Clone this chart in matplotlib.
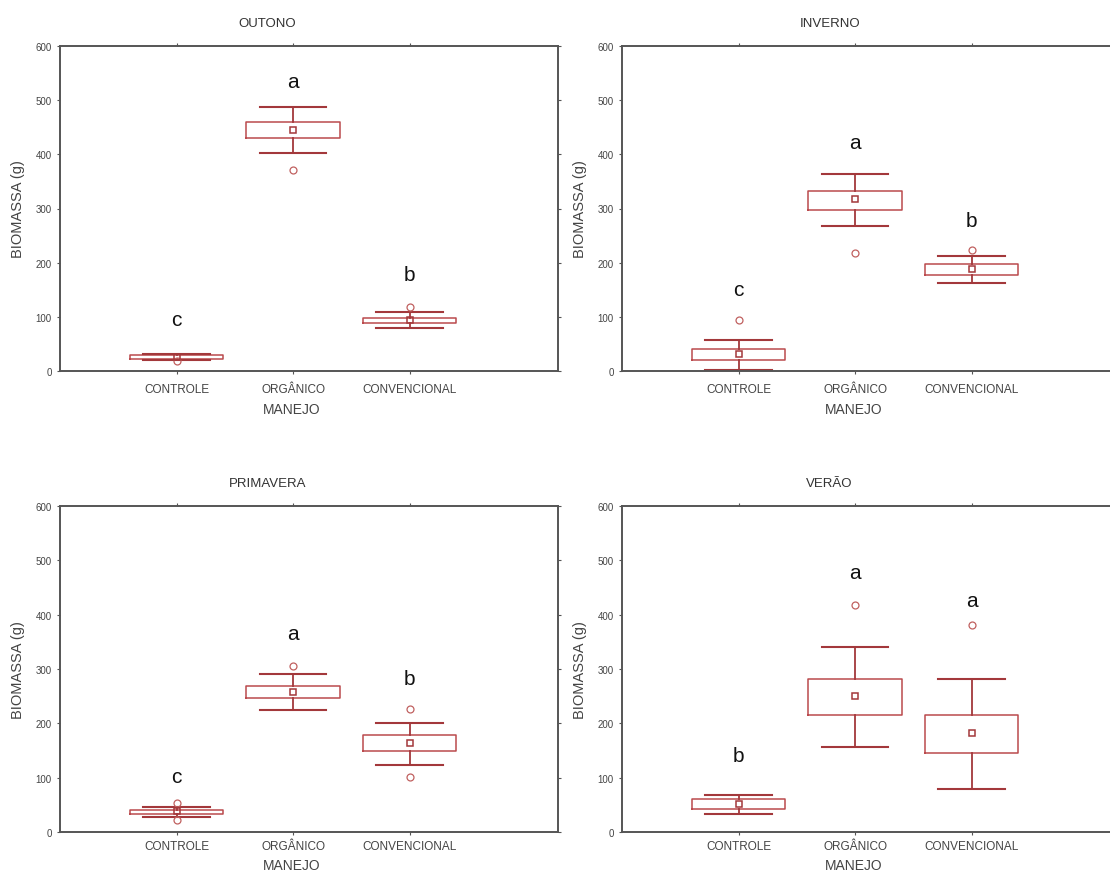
import matplotlib
matplotlib.use("Agg")
import matplotlib.pyplot as plt

plt.rcParams['font.family'] = ['Liberation Sans', 'DejaVu Sans']

seasons = ['OUTONO', 'INVERNO', 'PRIMAVERA', 'VERÃO']
categories = ['CONTROLE', 'ORGÂNICO', 'CONVENCIONAL']

# one row per season, one column per category
means = [[26, 445, 94], [31, 317, 189], [38, 258, 163], [51, 250, 182]]
box_low = [[22, 430, 88], [20, 298, 177], [33, 246, 149], [42, 216, 146]]
box_high = [[30, 460, 98], [40, 333, 197], [41, 269, 178], [60, 281, 216]]
whisk_low = [[21, 402, 80], [2, 268, 162], [28, 224, 124], [34, 156, 80]]
whisk_high = [[31, 488, 109], [57, 364, 212], [46, 291, 200], [68, 340, 281]]
outliers = [[[18], [372], [119]],
            [[94], [217], [223]],
            [[54, 23], [305], [226, 102]],
            [[], [417], [381]]]
letters = [['c', 'a', 'b'], ['c', 'a', 'b'], ['c', 'a', 'b'], ['b', 'a', 'a']]
letter_y = [[95, 534, 178], [151, 421, 278], [102, 366, 283], [141, 478, 426]]

box_col = '#bb4a4d'
whisk_col = '#a3383b'
text_col = '#444444'

W, H = 1110, 878
fig = plt.figure(figsize=(W / 100, H / 100), dpi=100)

# axes rectangles in pixels: left, top, bottom, tick pad, x label offset
rects = [(60, 47, 372, 6, -0.094), (622, 47, 372, 6, -0.094),
         (60, 507, 833, 3.5, -0.081), (622, 507, 833, 3.5, -0.081)]
ax_w = 498

for k, season in enumerate(seasons):
    left, top, bottom, tpad, xl_off = rects[k]
    ax = fig.add_axes([left / W, 1 - bottom / H, ax_w / W, (bottom - top) / H])

    stats = []
    for j, cat in enumerate(categories):
        stats.append(dict(label=cat, mean=means[k][j], med=means[k][j],
                          q1=box_low[k][j], q3=box_high[k][j],
                          whislo=whisk_low[k][j], whishi=whisk_high[k][j],
                          fliers=outliers[k][j]))

    ax.bxp(stats, positions=[1, 2, 3], widths=0.8, capwidths=0.57,
           showmeans=True, showfliers=True,
           boxprops=dict(color=box_col, linewidth=1.1),
           whiskerprops=dict(color=whisk_col, linewidth=1.3),
           capprops=dict(color=whisk_col, linewidth=1.5),
           medianprops=dict(linewidth=0),
           meanprops=dict(marker='s', markersize=4.5, markerfacecolor='none',
                          markeredgecolor=whisk_col, markeredgewidth=1.1),
           flierprops=dict(marker='o', markersize=5, markerfacecolor='none',
                           markeredgecolor='#c0605f', markeredgewidth=0.9))

    for j in range(3):
        ax.text(j + 1, letter_y[k][j], letters[k][j], ha='center', va='center',
                fontsize=15, color='#111111')

    ax.set_xlim(0, ax_w / 116.5)
    ax.set_ylim(0, 600)
    ax.set_yticks(range(0, 601, 100))
    ax.set_xticks([1, 2, 3])
    ax.set_xticklabels(categories, fontsize=8.5, color=text_col)
    ax.tick_params(axis='y', labelsize=7, colors=text_col, length=2.5,
                   direction='out', right=True)
    ax.tick_params(axis='x', length=2.5, direction='out', top=True, pad=tpad)
    ax.tick_params(which='both', color='#555555')

    for sp in ax.spines.values():
        sp.set_color('#555555')
        sp.set_linewidth(1.4)

    ax.set_ylabel('BIOMASSA (g)', fontsize=10.5, color=text_col)
    ax.yaxis.set_label_coords(-0.07, 0.5)
    ax.set_xlabel('MANEJO', fontsize=10, color=text_col)
    ax.xaxis.set_label_coords(0.466, xl_off)
    ax.text(0.417, 1.07, season, transform=ax.transAxes, ha='center',
            va='center', fontsize=9.5, color='#333333')

fig.savefig('out.png', dpi=100, facecolor='white')
